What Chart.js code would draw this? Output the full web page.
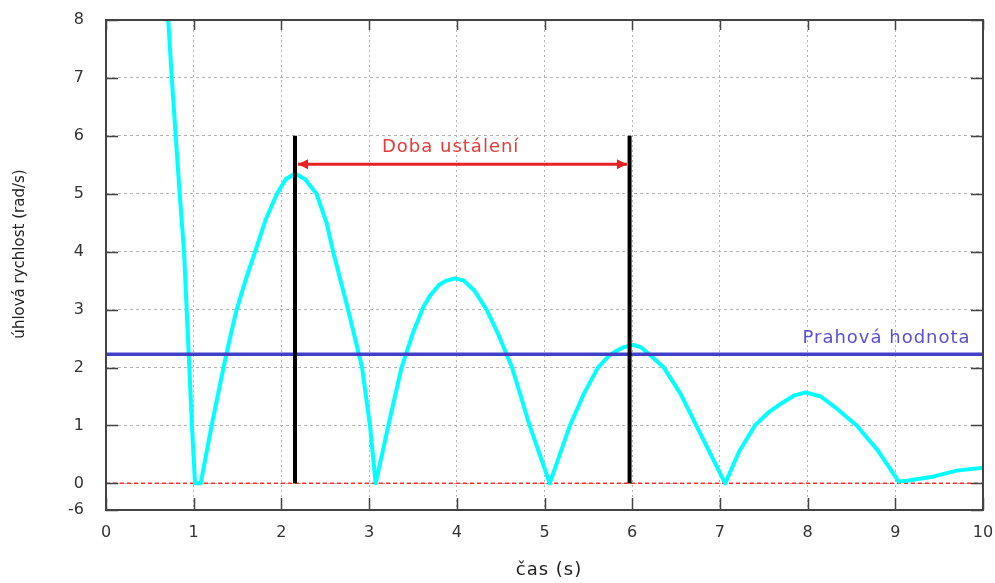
<!DOCTYPE html>
<html>
<head>
<meta charset="utf-8">
<script src="https://cdn.jsdelivr.net/npm/chart.js@4/dist/chart.umd.min.js"></script>
<style>
  body { margin: 0; background: #fff; }
  canvas { display: block; }
</style>
</head>
<body>
<canvas id="graf" width="995" height="583"></canvas>
<script>
// průběh úhlové rychlosti
const casX = [0.69, 0.71, 0.75, 0.795, 0.84, 0.89, 0.98, 1.015, 1.08,
    1.205, 1.34, 1.42, 1.49, 1.60, 1.70, 1.82, 1.95, 2.05, 2.155, 2.27, 2.40, 2.515, 2.59, 2.76, 2.92, 3.01, 3.075,
    3.22, 3.37, 3.50, 3.62, 3.70, 3.80, 3.88, 3.98, 4.08, 4.20, 4.34, 4.48, 4.63, 4.83, 5.06,
    5.29, 5.45, 5.61, 5.72, 5.80, 5.90, 6.01, 6.10, 6.20, 6.36, 6.55, 6.73, 7.06,
    7.22, 7.40, 7.55, 7.70, 7.85, 7.98, 8.15, 8.30, 8.56, 8.80, 9.04, 9.15, 9.44, 9.70, 10];
const rychlostY = [8.5, 8, 7, 6, 5, 4, 1, 0, 0,
    1, 2, 2.55, 3, 3.55, 4, 4.55, 5, 5.25, 5.35, 5.25, 5, 4.5, 4, 3, 2, 1, 0,
    1, 2, 2.6, 3.05, 3.25, 3.43, 3.5, 3.54, 3.5, 3.33, 3, 2.55, 2, 1, 0,
    1, 1.55, 2, 2.18, 2.27, 2.35, 2.39, 2.35, 2.22, 2, 1.55, 1, 0,
    0.55, 1, 1.22, 1.38, 1.52, 1.57, 1.5, 1.33, 1, 0.57, 0.03, 0.05, 0.12, 0.22, 0.27];

const prahHodnota = 2.23;
const ustaleniCasy = [2.155, 5.97];   // svislé čáry
const ustaleniVyska = [0, 6];
const sipkaX = [2.19, 5.94];
const sipkaY = 5.51;

const xTicky = [0, 1, 2, 3, 4, 5, 6, 7, 8, 9, 10];
const yTickyHodnoty = [-0.46, 0, 1, 2, 3, 4, 5, 6, 7, 8];
const yTickyPopisky = ['-6', '0', '1', '2', '3', '4', '5', '6', '7', '8'];

const popisky = [
    { text: 'Doba ustálení', x: 3.93, y: 5.8, barva: '#e83a3a' },
    { text: 'Prahová hodnota', x: 8.9, y: 2.51, barva: '#5a50d6' }
];
const nazevX = 'čas (s)';
const nazevY = 'úhlová rychlost (rad/s)';

const krivka = casX.map((x, i) => ({ x: x, y: rychlostY[i] }));

// rámeček, ticky dovnitř, hroty šipky, popisky a názvy os
const doplnky = {
    id: 'doplnky',
    afterDatasetsDraw(chart) {
        const { ctx, chartArea: a, scales: { x, y } } = chart;
        ctx.save();

        // hroty šipky
        const sy = y.getPixelForValue(sipkaY);
        const hrot = (px, smer) => {
            ctx.beginPath();
            ctx.moveTo(px, sy);
            ctx.lineTo(px - smer * 10, sy - 5);
            ctx.lineTo(px - smer * 10, sy + 5);
            ctx.closePath();
            ctx.fillStyle = '#e62222';
            ctx.fill();
        };
        hrot(x.getPixelForValue(sipkaX[0]), -1);
        hrot(x.getPixelForValue(sipkaX[1]), 1);

        // popisky
        ctx.font = '18px "DejaVu Sans"';
        ctx.letterSpacing = '1px';
        ctx.textAlign = 'center';
        ctx.textBaseline = 'middle';
        popisky.forEach(p => {
            ctx.fillStyle = p.barva;
            ctx.fillText(p.text, x.getPixelForValue(p.x), y.getPixelForValue(p.y));
        });

        // názvy os
        ctx.fillStyle = '#222';
        ctx.fillText(nazevX, 549, 570);
        ctx.letterSpacing = '0px';
        ctx.font = '15px "DejaVu Sans"';
        ctx.save();
        ctx.translate(20, 254);
        ctx.rotate(-Math.PI / 2);
        ctx.fillText(nazevY, 0, 0);
        ctx.restore();

        // ticky dovnitř
        ctx.strokeStyle = '#444';
        ctx.lineWidth = 1.5;
        ctx.beginPath();
        yTickyHodnoty.forEach(v => {
            const py = Math.round(y.getPixelForValue(v)) + 0.5;
            ctx.moveTo(a.left, py); ctx.lineTo(a.left + 12, py);
            ctx.moveTo(a.right, py); ctx.lineTo(a.right - 12, py);
        });
        xTicky.forEach(v => {
            const px = Math.round(x.getPixelForValue(v)) + 0.5;
            ctx.moveTo(px, a.bottom); ctx.lineTo(px, a.bottom - 12);
            ctx.moveTo(px, a.top); ctx.lineTo(px, a.top + 10);
        });
        ctx.stroke();

        // rámeček
        ctx.lineWidth = 2;
        ctx.strokeRect(a.left, a.top, a.right - a.left, a.bottom - a.top);
        ctx.restore();
    }
};

new Chart(document.getElementById('graf'), {
    type: 'line',
    data: {
        datasets: [
            {
                data: krivka,
                borderColor: '#00ffff',
                borderWidth: 4,
                borderJoinStyle: 'round',
                pointRadius: 0,
                tension: 0,
                order: 5
            },
            {
                data: [{ x: 0, y: 0 }, { x: 10, y: 0 }],
                borderColor: '#ff3030',
                borderWidth: 1.5,
                borderDash: [4, 3],
                pointRadius: 0,
                order: 6
            },
            {
                data: [{ x: 0, y: prahHodnota }, { x: 10, y: prahHodnota }],
                borderColor: '#4040c8',
                borderWidth: 3.5,
                pointRadius: 0,
                order: 4
            },
            {
                data: ustaleniVyska.map(v => ({ x: ustaleniCasy[0], y: v })),
                borderColor: '#000',
                borderWidth: 4,
                pointRadius: 0,
                order: 2
            },
            {
                data: ustaleniVyska.map(v => ({ x: ustaleniCasy[1], y: v })),
                borderColor: '#000',
                borderWidth: 4,
                pointRadius: 0,
                order: 2
            },
            {
                data: sipkaX.map(v => ({ x: v, y: sipkaY })),
                borderColor: '#e62222',
                borderWidth: 3,
                pointRadius: 0,
                order: 1
            }
        ]
    },
    options: {
        responsive: false,
        animation: false,
        layout: { autoPadding: false, padding: { left: 0, top: 20, right: 12, bottom: 0 } },
        plugins: { legend: { display: false }, tooltip: { enabled: false } },
        scales: {
            x: {
                type: 'linear',
                min: 0,
                max: 10,
                afterFit: s => { s.height = 73; s.paddingLeft = 0; s.paddingRight = 0; },
                afterBuildTicks: s => { s.ticks = xTicky.map(v => ({ value: v })); },
                grid: { color: '#b4b4b4', drawTicks: false },
                border: { display: false, dash: [2, 3] },
                ticks: { padding: 13, color: '#333', font: { family: 'DejaVu Sans', size: 16 } }
            },
            y: {
                type: 'linear',
                min: -0.46,
                max: 8,
                afterFit: s => { s.width = 106; s.paddingTop = 0; s.paddingBottom = 0; },
                afterBuildTicks: s => { s.ticks = yTickyHodnoty.map(v => ({ value: v })); },
                grid: { color: '#b4b4b4', drawTicks: false },
                border: { display: false, dash: [3, 3] },
                ticks: {
                    padding: 22, color: '#333', font: { family: 'DejaVu Sans', size: 16 },
                    callback: (v, i) => yTickyPopisky[i]
                }
            }
        }
    },
    plugins: [doplnky]
});
</script>
</body>
</html>
